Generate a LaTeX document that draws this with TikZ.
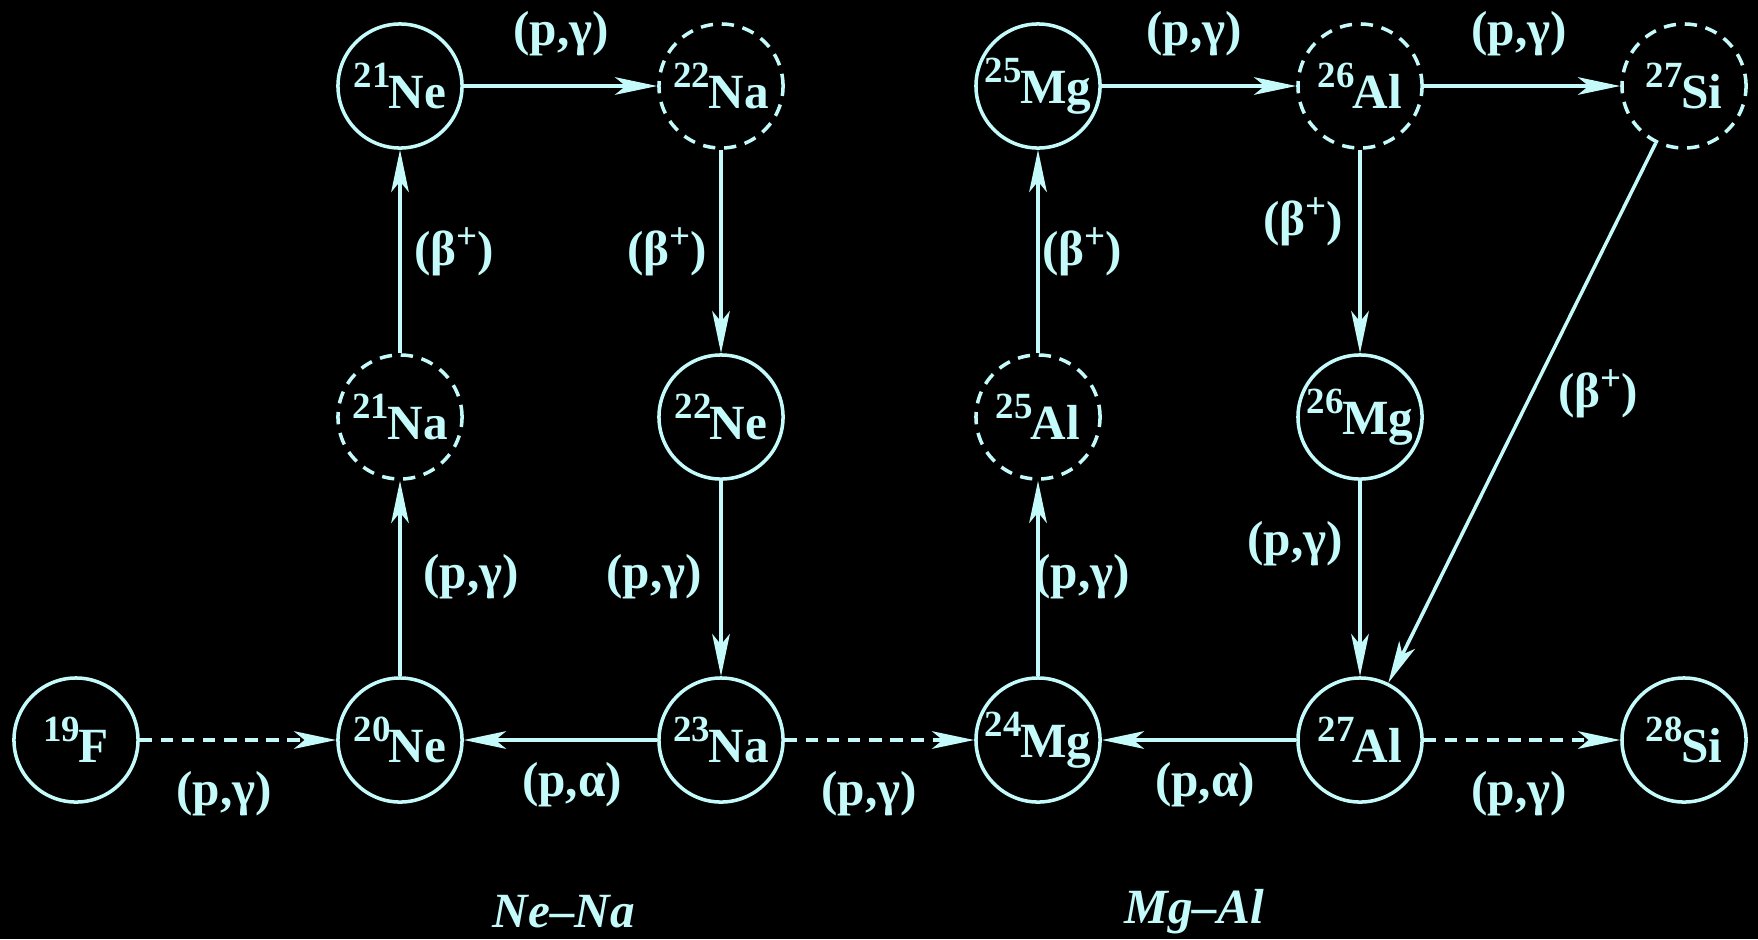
\documentclass[tikz,border=0pt]{standalone}
\usepackage{fontspec}
\setmainfont{Liberation Serif}
\usetikzlibrary{arrows.meta}
\definecolor{nucyan}{HTML}{C4FAFA}
\newcommand{\iso}[2]{\raisebox{6pt}{\fontsize{10.5}{11}\selectfont#1}\kern-0.5pt#2}
\newcommand{\bplus}{(β\raisebox{5pt}{\fontsize{10.5}{11}\selectfont+})}

\begin{document}
\begin{tikzpicture}[
  x=0.01cm, y=-0.01cm,
  nuc/.style={circle, draw=nucyan, line width=1pt, minimum size=1.24cm, inner sep=0pt,
    text=nucyan, font=\fontsize{14}{16}\selectfont\bfseries},
  unst/.style={nuc, dash pattern=on 3.5pt off 2.5pt},
  arr/.style={-{Stealth[length=12pt, width=5pt, inset=3pt]}, line width=1pt, nucyan},
  darr/.style={arr, dash pattern=on 3.5pt off 2.5pt},
  lbl/.style={text=nucyan, font=\fontsize{14}{16}\selectfont\bfseries},
  cyc/.style={text=nucyan, font=\fontsize{14}{16}\selectfont\bfseries\itshape},
]
  \useasboundingbox (0,0) rectangle (1758,939);
  \fill[black] (0,0) rectangle (1758,939);

  % bottom row
  \node[nuc] (f19) at (76,740) {\iso{19}{F}};
  \node[nuc] (ne20) at (400,740) {\iso{20}{Ne}};
  \node[nuc] (na23) at (721,740) {\iso{23}{Na}};
  \node[nuc] (mg24) at (1038,740) {\iso{24}{Mg}};
  \node[nuc] (al27) at (1360,740) {\iso{27}{Al}};
  \node[nuc] (si28) at (1684,740) {\iso{28}{Si}};
  % middle row
  \node[unst] (na21) at (400,417) {\iso{21}{Na}};
  \node[nuc] (ne22) at (721,417) {\iso{22}{Ne}};
  \node[unst] (al25) at (1038,417) {\iso{25}{Al}};
  \node[nuc] (mg26) at (1360,417) {\iso{26}{Mg}};
  % top row
  \node[nuc] (ne21) at (400,86) {\iso{21}{Ne}};
  \node[unst] (na22) at (721,86) {\iso{22}{Na}};
  \node[nuc] (mg25) at (1038,86) {\iso{25}{Mg}};
  \node[unst] (al26) at (1360,86) {\iso{26}{Al}};
  \node[unst] (si27) at (1684,86) {\iso{27}{Si}};

  % Ne-Na cycle
  \draw[darr] (f19) -- (ne20);
  \draw[arr] (ne20) -- (na21);
  \draw[arr] (na21) -- (ne21);
  \draw[arr] (ne21) -- (na22);
  \draw[arr] (na22) -- (ne22);
  \draw[arr] (ne22) -- (na23);
  \draw[arr] (na23) -- (ne20);
  \draw[darr] (na23) -- (mg24);

  % Mg-Al cycle
  \draw[arr] (mg24) -- (al25);
  \draw[arr] (al25) -- (mg25);
  \draw[arr] (mg25) -- (al26);
  \draw[arr] (al26) -- (si27);
  \draw[arr] (al26) -- (mg26);
  \draw[arr] (mg26) -- (al27);
  \draw[arr] (si27) -- (al27);
  \draw[arr] (al27) -- (mg24);
  \draw[darr] (al27) -- (si28);

  % reaction labels
  \node[lbl] (l1) at (224,794) {(p,γ)};
  \node[lbl] (l2) at (572,785) {(p,α)};
  \node[lbl] (l3) at (869,794) {(p,γ)};
  \node[lbl] (l4) at (1205,785) {(p,α)};
  \node[lbl] (l5) at (1519,794) {(p,γ)};
  \node[lbl] (l6) at (561,34) {(p,γ)};
  \node[lbl] (l7) at (1194,34) {(p,γ)};
  \node[lbl] (l8) at (1519,34) {(p,γ)};
  \node[lbl] (l9) at (471,577) {(p,γ)};
  \node[lbl] (l10) at (654,577) {(p,γ)};
  \node[lbl] (l11) at (1082,577) {(p,γ)};
  \node[lbl] (l12) at (1295,544) {(p,γ)};
  \node[lbl] (b1) at (454,252) {\bplus};
  \node[lbl] (b2) at (667,252) {\bplus};
  \node[lbl] (b3) at (1082,252) {\bplus};
  \node[lbl] (b4) at (1303,222) {\bplus};
  \node[lbl] (b5) at (1598,394) {\bplus};

  % cycle names
  \node[cyc] (nena) at (564,912) {Ne--Na};
  \node[cyc] (mgal) at (1194,912) {Mg--Al};
\end{tikzpicture}
\end{document}
